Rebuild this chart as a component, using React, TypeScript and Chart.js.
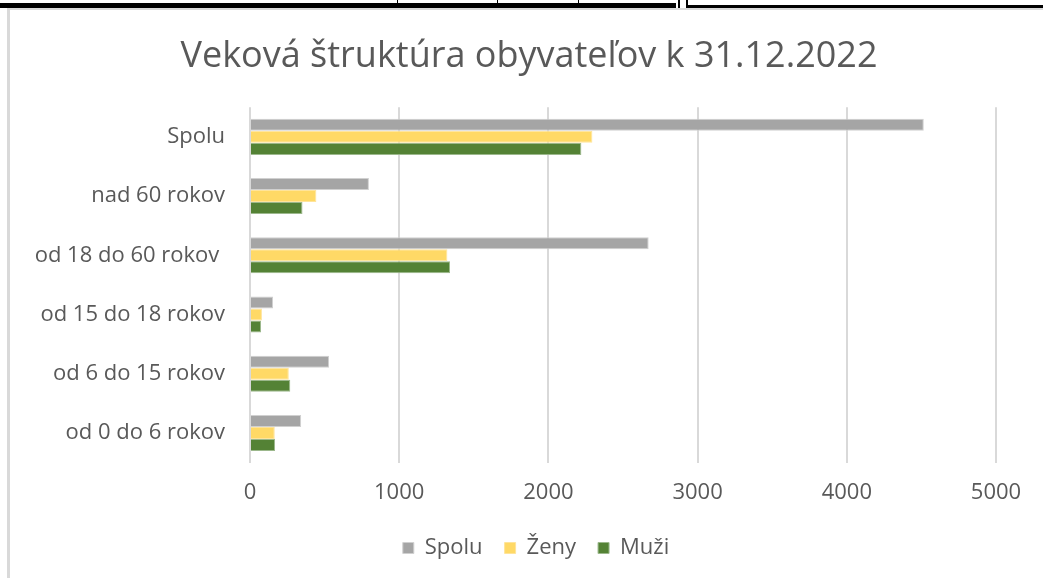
import React, { useEffect, useRef } from 'react';
import { Chart, registerables } from 'chart.js';

Chart.register(...registerables);

const categories = ['Spolu', 'nad 60 rokov', 'od 18 do 60 rokov ', 'od 15 do 18 rokov', 'od 6 do 15 rokov', 'od 0 do 6 rokov'];
const spolu = [4516, 797, 2672, 155, 530, 343];
const zeny = [2295, 445, 1323, 80, 260, 166];
const muzi = [2221, 352, 1341, 74, 270, 168];
const xTicks = [0, 1000, 2000, 3000, 4000, 5000];
const seriesNames = ['Spolu', 'Ženy', 'Muži'];

const TEXT = '#595959';
const FONT = "'Open Sans', sans-serif";

const shiftBoxes = {
  id: 'shiftBoxes',
  afterLayout(chart: any) {
    if (chart.titleBlock) chart.titleBlock.left += 54;
    if (chart.legend) chart.legend.left += 68;
  },
};

export default function App() {
  const ref = useRef<HTMLCanvasElement>(null);
  useEffect(() => {
    if (!ref.current) return;
    const chart = new Chart(ref.current, {
      type: 'bar',
      data: {
        labels: categories,
        datasets: [
          { label: seriesNames[0], data: spolu, backgroundColor: '#a5a5a5', borderColor: '#d0d0d0', borderWidth: 1 },
          { label: seriesNames[1], data: zeny, backgroundColor: '#ffd966', borderColor: '#ffe49a', borderWidth: 1 },
          { label: seriesNames[2], data: muzi, backgroundColor: '#548235', borderColor: '#9cb88c', borderWidth: 1 },
        ],
      },
      plugins: [shiftBoxes],
      options: {
        indexAxis: 'y',
        responsive: false,
        animation: false,
        devicePixelRatio: 1,
        categoryPercentage: 0.61,
        barPercentage: 1,
        layout: { padding: { top: 22, left: 8, right: 47, bottom: 9 } },
        plugins: {
          title: {
            display: true,
            text: 'Veková štruktúra obyvateľov k 31.12.2022',
            color: TEXT,
            font: { family: FONT, size: 36, weight: 'normal' },
            padding: { top: 13, bottom: 29 },
          },
          legend: {
            position: 'bottom',
            labels: {
              boxWidth: 11,
              boxHeight: 11,
              color: TEXT,
              padding: 22,
              font: { family: FONT, size: 22 },
            },
          },
          tooltip: { enabled: false },
        },
        scales: {
          x: {
            min: 0,
            max: 5000,
            afterBuildTicks: (s: any) => { s.ticks = xTicks.map((v) => ({ value: v })); },
            afterFit: (s: any) => { s.height = s.height - 8; },
            ticks: { color: TEXT, font: { family: FONT, size: 22 }, padding: 17, callback: (v: any) => String(v) },
            grid: { color: '#d9d9d9', lineWidth: 2, drawTicks: false },
            border: { display: false },
          },
          y: {
            afterFit: (s: any) => { s.width = 250 - 8; },
            ticks: { color: TEXT, font: { family: FONT, size: 22 }, padding: 25 },
            grid: { display: false, drawTicks: false },
            border: { display: false },
          },
        },
      },
    });
    return () => chart.destroy();
  }, []);

  const abs = (s: React.CSSProperties): React.CSSProperties => ({ position: 'absolute', ...s });
  return (
    <div style={{ position: 'fixed', left: 0, top: 0, width: 1043, height: 578, background: '#fff', overflow: 'hidden' }}>
      <canvas ref={ref} width={1043} height={578} style={{ position: 'absolute', left: 0, top: 0 }} />
      <div style={abs({ left: 7, top: 8, width: 1036, height: 2, background: '#d9d9d9' })} />
      <div style={abs({ left: 7, top: 8, width: 3, height: 570, background: '#d9d9d9' })} />
      <div style={abs({ left: 0, top: 3, width: 676, height: 5, background: '#000' })} />
      <div style={abs({ left: 678, top: 0, width: 2, height: 8, background: '#000' })} />
      <div style={abs({ left: 686, top: 0, width: 2, height: 8, background: '#000' })} />
      <div style={abs({ left: 688, top: 5, width: 355, height: 3, background: '#000' })} />
      <div style={abs({ left: 397, top: 0, width: 1, height: 3, background: '#000' })} />
      <div style={abs({ left: 497, top: 0, width: 1, height: 3, background: '#000' })} />
      <div style={abs({ left: 578, top: 0, width: 1, height: 3, background: '#000' })} />
    </div>
  );
}
